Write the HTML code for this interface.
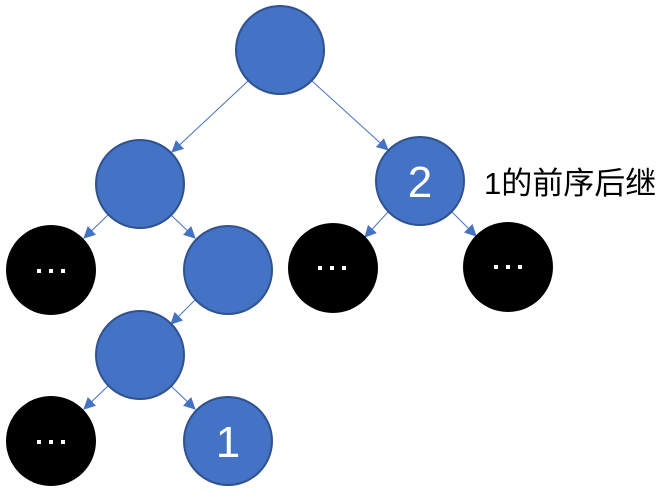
<!DOCTYPE html>
<html><head><meta charset="utf-8"><style>html,body{margin:0;padding:0;background:#fff}</style></head>
<body>
<svg width="667" height="493" viewBox="0 0 667 493" xmlns="http://www.w3.org/2000/svg">
<defs><marker id="a" markerWidth="12" markerHeight="12" refX="11" refY="6" orient="auto" markerUnits="userSpaceOnUse"><path d="M0,0 L12,6 L0,12 z" fill="#4472C4"/></marker></defs>
<g stroke="#4472C4" stroke-width="1" marker-end="url(#a)">
<line x1="248" y1="81" x2="172" y2="152"/>
<line x1="312" y1="81" x2="388" y2="150"/>
<line x1="108" y1="215" x2="84" y2="238"/>
<line x1="171" y1="215" x2="195" y2="238"/>
<line x1="388" y1="212" x2="365" y2="237"/>
<line x1="452" y1="212" x2="476" y2="236"/>
<line x1="195" y1="300" x2="171" y2="324"/>
<line x1="108" y1="386" x2="84" y2="409"/>
<line x1="171" y1="386" x2="195" y2="409"/>
</g>
<g fill="#4472C4" stroke="#2F528F" stroke-width="2">
<circle cx="280" cy="50" r="44"/>
<circle cx="140" cy="184" r="44"/>
<circle cx="420" cy="181" r="44"/>
<circle cx="228" cy="270" r="44"/>
<circle cx="140" cy="355" r="44"/>
<circle cx="228" cy="441" r="44"/>
</g>
<g fill="#000">
<circle cx="51" cy="270" r="45"/>
<circle cx="333" cy="268" r="45"/>
<circle cx="508" cy="267" r="45"/>
<circle cx="51" cy="441" r="45"/>
</g>
<g fill="#fff">
<rect x="37" y="269" width="4" height="4"/><rect x="49" y="269" width="4" height="4"/><rect x="61" y="269" width="4" height="4"/>
<rect x="318" y="266" width="4" height="4"/><rect x="330" y="266" width="4" height="4"/><rect x="342" y="266" width="4" height="4"/>
<rect x="494" y="265" width="4" height="4"/><rect x="506" y="265" width="4" height="4"/><rect x="518" y="265" width="4" height="4"/>
<rect x="37" y="440" width="4" height="4"/><rect x="49" y="440" width="4" height="4"/><rect x="61" y="440" width="4" height="4"/>
</g>
<g fill="#fff" font-family="Liberation Sans, sans-serif" font-size="44" text-anchor="middle">
<text x="420" y="197">2</text>
<text x="228" y="457">1</text>
</g>
<text x="484" y="194" font-family="Liberation Sans, Noto Sans CJK SC, sans-serif" font-size="31" fill="#000">1的前序后继</text>
</svg>
</body></html>
